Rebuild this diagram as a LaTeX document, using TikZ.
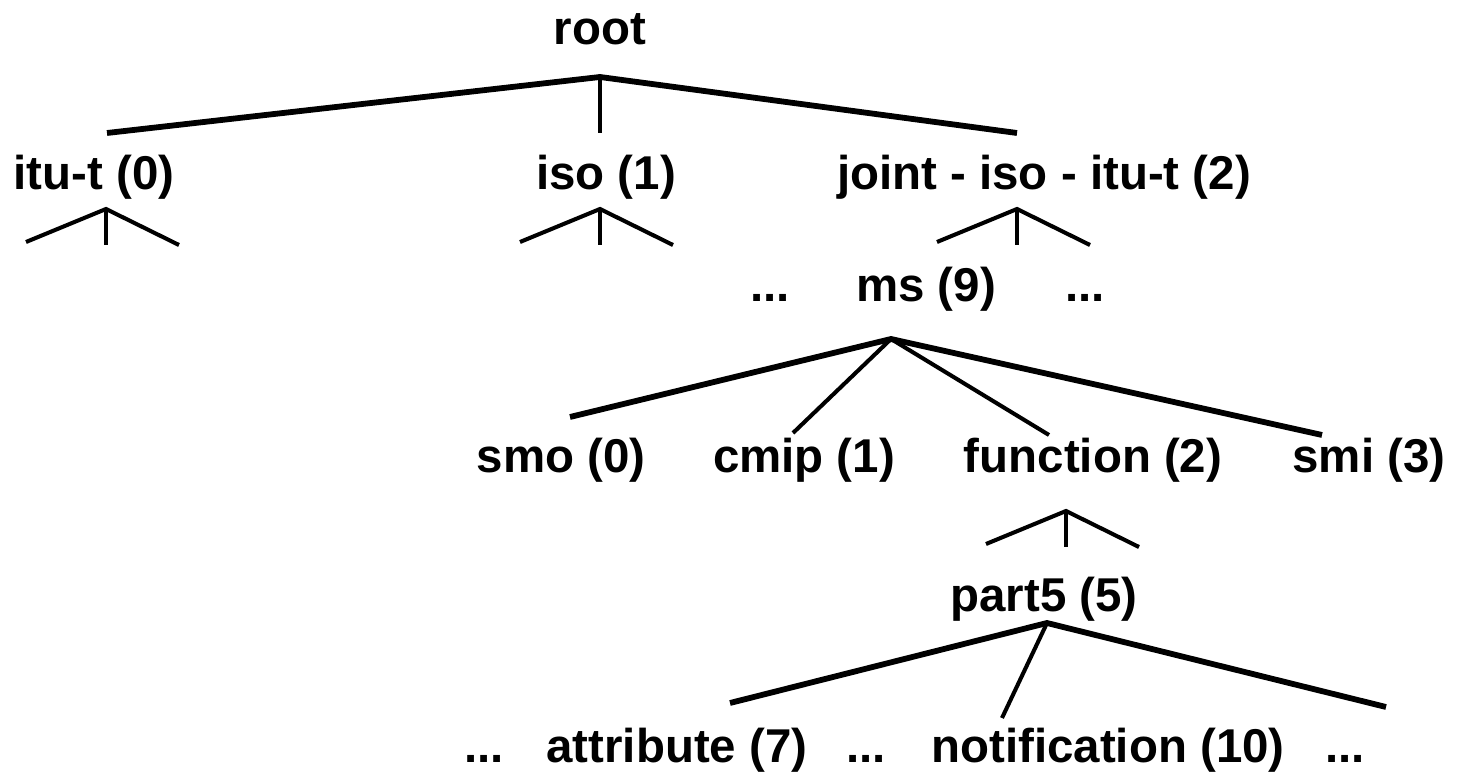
\documentclass[tikz,border=0pt]{standalone}
\usepackage{fontspec}
\setmainfont{Liberation Sans}
\usetikzlibrary{calc}
\tikzset{
  lbl/.style={font=\fontsize{27}{32}\selectfont\bfseries, anchor=base, inner sep=0pt},
  branch/.style={line width=3.3pt},
  twig/.style={line width=2.3pt}
}
\begin{document}
\begin{tikzpicture}
\useasboundingbox (0,0) rectangle (29.2,15.58);
% labels
\node[lbl] (root) at (12.0,14.68) {root};
\node[lbl] (itut) at (1.88,11.78) {itu-t (0)};
\node[lbl] (iso) at (12.12,11.78) {iso (1)};
\node[lbl] (joint) at (20.88,11.78) {joint - iso - itu-t (2)};
\node[lbl] (msl) at (15.4,9.54) {...};
\node[lbl] (ms) at (18.52,9.54) {ms (9)};
\node[lbl] (msr) at (21.7,9.54) {...};
\node[lbl] (smo) at (11.22,6.12) {smo (0)};
\node[lbl] (cmip) at (16.08,6.12) {cmip (1)};
\node[lbl] (function) at (21.86,6.12) {function (2)};
\node[lbl] (smi) at (27.38,6.12) {smi (3)};
\node[lbl] (part) at (20.88,3.34) {part5 (5)};
\node[lbl] (pa) at (9.68,0.34) {...};
\node[lbl] (attribute) at (13.54,0.34) {attribute (7)};
\node[lbl] (pb) at (17.32,0.34) {...};
\node[lbl] (notification) at (22.16,0.34) {notification (10)};
\node[lbl] (pc) at (26.9,0.34) {...};
% forks
\coordinate (rootfork) at (12.0,14.04);
\coordinate (rootl) at (2.14,12.92);
\coordinate (rootm) at (12.0,12.92);
\coordinate (rootr) at (20.34,12.92);
\draw[branch] (rootl) -- (rootfork) -- (rootr);
\draw[twig] (rootfork) -- (rootm);
\coordinate (msfork) at (17.82,8.8);
\coordinate (mssmo) at (11.4,7.24);
\coordinate (mscmip) at (15.86,6.92);
\coordinate (msfunc) at (20.98,6.88);
\coordinate (mssmi) at (26.44,6.88);
\draw[branch] (mssmo) -- (msfork) -- (mssmi);
\draw[twig] (msfork) -- (mscmip);
\draw[twig] (msfork) -- (msfunc);
\coordinate (partfork) at (20.94,3.12);
\coordinate (partl) at (14.6,1.52);
\coordinate (partm) at (20.04,1.22);
\coordinate (partr) at (27.72,1.44);
\draw[branch] (partl) -- (partfork) -- (partr);
\draw[twig] (partfork) -- (partm);
% small stubs under a node
\foreach \n/\x/\y in {ituts/2.12/11.4, isos/12.0/11.4, joints/20.34/11.4, funcs/21.32/5.36}{
  \coordinate (\n) at (\x,\y);
  \draw[twig] ($(\n)+(-1.6,-0.66)$) -- (\n) -- ($(\n)+(1.46,-0.72)$);
  \draw[twig] (\n) -- ++(0,-0.72);
}
\end{tikzpicture}
\end{document}
